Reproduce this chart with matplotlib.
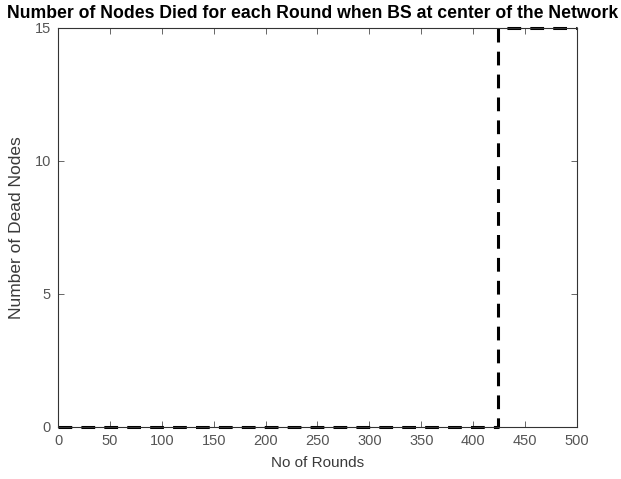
import numpy as np
import matplotlib.pyplot as plt

plt.rcParams['font.family'] = ['Liberation Sans', 'DejaVu Sans']

# dead node count per round (step change when nodes die out)
rounds = [0, 424, 500]
dead_nodes = [0, 15, 15]

x_ticks = np.arange(0, 501, 50)
y_ticks = [0, 5, 10, 15]

fig = plt.figure(figsize=(6.21, 4.79), dpi=100)
ax = fig.add_axes([0.0934, 0.1086, 0.8357, 0.833])

ax.plot(rounds, dead_nodes, color='black', linestyle='--', linewidth=2.2,
        dashes=(4.5, 3), drawstyle='steps-post', clip_on=False)

ax.set_xlim(0, 500)
ax.set_ylim(0, 15)
ax.set_xticks(x_ticks)
ax.set_yticks(y_ticks)
ax.tick_params(direction='in', top=True, right=True, length=4, width=0.6,
               labelsize=10.5, colors='#4d4d4d', labelcolor='#555555', pad=5)
for s in ax.spines.values():
    s.set_color('#333333')
    s.set_linewidth(0.8)

ax.set_xlabel('No of Rounds', fontsize=11, color='#3a3a3a', labelpad=6)
ax.set_ylabel('Number of Dead Nodes', fontsize=12.5, color='#3a3a3a', labelpad=8)
fig.text(0.504, 0.972,
         'Number of Nodes Died for each Round when BS at center of the Network',
         ha='center', va='center', fontsize=12.7, fontweight='bold')

fig.savefig('out.png', dpi=100)
